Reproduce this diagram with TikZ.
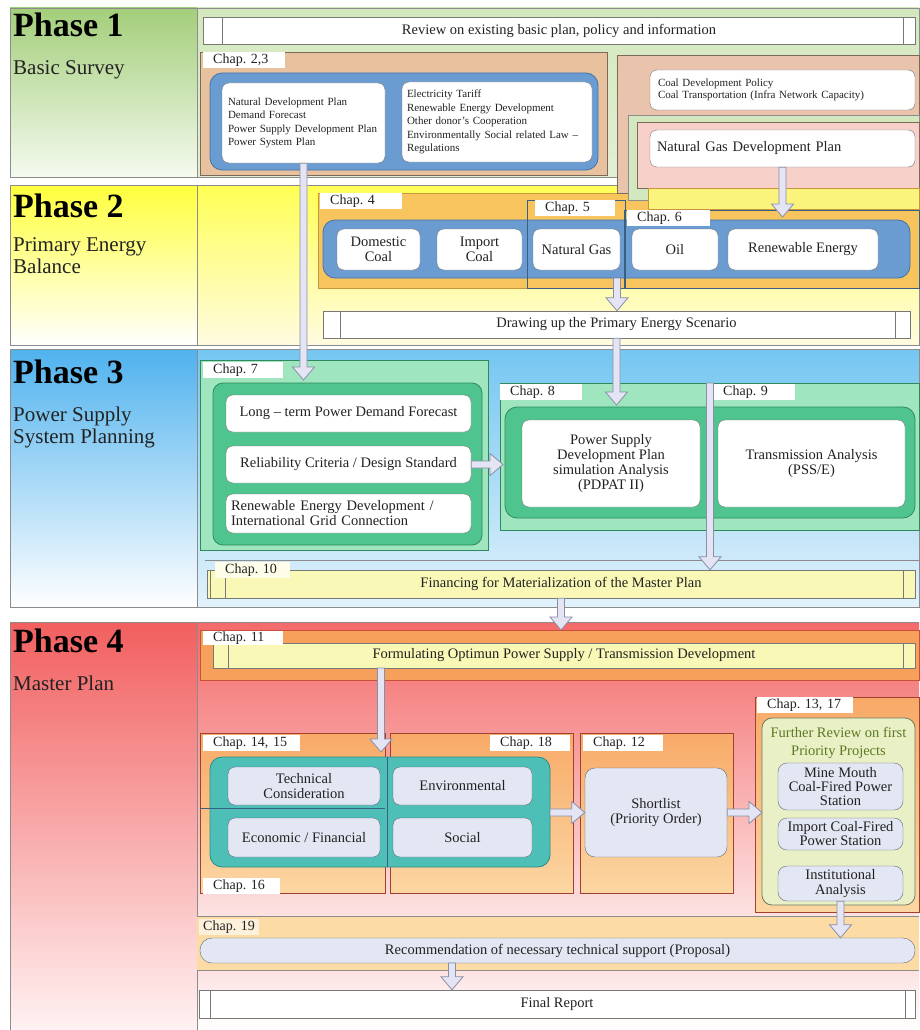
\documentclass[tikz,border=0pt]{standalone}
\usepackage{fontspec}
\setmainfont{Liberation Serif}
\usetikzlibrary{calc}
\newcommand{\myfs}[2]{\fontsize{#1}{#2}\selectfont}
\definecolor{p1top}{HTML}{A3CE7A}
\definecolor{p1bot}{HTML}{F5FAEF}
\definecolor{p1r}{HTML}{D4E8BF}
\definecolor{p1rb}{HTML}{E2EFD3}
\definecolor{tanA}{HTML}{E8C29E}
\definecolor{tanB}{HTML}{E9C3AC}
\definecolor{pinkR}{HTML}{F6D0C9}
\definecolor{blueF}{HTML}{6A9BD1}
\definecolor{blueL}{HTML}{4672A6}
\definecolor{p2top}{HTML}{FFFF3C}
\definecolor{p2rtop}{HTML}{FFFF55}
\definecolor{p2rbot}{HTML}{FFFBE0}
\definecolor{or4}{HTML}{F8C45E}
\definecolor{or4l}{HTML}{C8963C}
\definecolor{yband}{HTML}{FBF47C}
\definecolor{p3top}{HTML}{4FB2EE}
\definecolor{p3rtop}{HTML}{74C6F1}
\definecolor{p3rbot}{HTML}{E2F2FB}
\definecolor{lgreen}{HTML}{9FE5BE}
\definecolor{mgreen}{HTML}{4FC48E}
\definecolor{dgreen}{HTML}{2E8A5E}
\definecolor{yel10}{HTML}{FAF8B6}
\definecolor{p4top}{HTML}{F25F5F}
\definecolor{p4bot}{HTML}{FFF2F2}
\definecolor{p4rtop}{HTML}{F46A6A}
\definecolor{p4rbot}{HTML}{FDE2E2}
\definecolor{or11}{HTML}{F6A05C}
\definecolor{red11}{HTML}{C8503A}
\definecolor{or14t}{HTML}{F8AA68}
\definecolor{or14b}{HTML}{FCD6A2}
\definecolor{tealF}{HTML}{4EBFB7}
\definecolor{tealL}{HTML}{2E8C88}
\definecolor{lav}{HTML}{E3E6F3}
\definecolor{lavline}{HTML}{5C6679}
\definecolor{ygreen}{HTML}{EAF0C6}
\definecolor{ftitle}{HTML}{5B7A24}
\definecolor{c19col}{HTML}{FCDCA4}
\definecolor{arrfill}{HTML}{E4E4F4}
\definecolor{arrline}{HTML}{8890A8}
\definecolor{boxline}{HTML}{787878}
\definecolor{regline}{HTML}{7A6A5A}
\definecolor{bandline}{HTML}{8C8C8C}
\definecolor{frameblue}{HTML}{3A6080}
\definecolor{ink}{HTML}{222222}
\newcommand{\harrowdown}[2]{%
  \path[harrowsty] let \p1=(#1), \p2=(#2) in
  (\x1-3.5pt,\y1) -- (\x1-3.5pt,\y2+13pt) -- (\x1-11pt,\y2+13pt) -- (\x1,\y2)
  -- (\x1+11pt,\y2+13pt) -- (\x1+3.5pt,\y2+13pt) -- (\x1+3.5pt,\y1) -- cycle;}
\newcommand{\harrowright}[2]{%
  \path[harrowsty] let \p1=(#1), \p2=(#2) in
  (\x1,\y1+3.5pt) -- (\x2-13pt,\y1+3.5pt) -- (\x2-13pt,\y1+11pt) -- (\x2,\y1)
  -- (\x2-13pt,\y1-11pt) -- (\x2-13pt,\y1-3.5pt) -- (\x1,\y1-3.5pt) -- cycle;}
\begin{document}
\frenchspacing
\begin{tikzpicture}[x=1pt,y=-1pt,
  sz/.style 2 args={minimum width=#1, minimum height=#2},
  rbox/.style={draw=boxline, fill=white, rounded corners=7pt, align=center, inner sep=2pt, font=\myfs{14.5}{15}, text=ink},
  lbox/.style={rbox, fill=lav, draw=lavline},
  pbox/.style={draw=boxline, fill=white, align=center, inner sep=0pt, font=\myfs{14.5}{15}, text=ink},
  chaplbl/.style={anchor=north west, fill=white, inner xsep=10pt, inner ysep=0pt, minimum height=16pt, text width=#1, align=left, font=\myfs{14}{14}, text=ink},
  region/.style={draw=regline, line width=0.7pt},
  harrowsty/.style={fill=arrfill, draw=arrline, line width=0.8pt},
  ptitle/.style={anchor=base west, font=\bfseries\myfs{34}{34}, inner sep=0pt, text=black},
  psub/.style={anchor=base west, font=\myfs{21}{22}, inner sep=0pt, text=ink},
  band/.style={draw=bandline, line width=0.8pt}
]
\useasboundingbox (0,0) rectangle (919,1030);
\fill[white] (0,0) rectangle (919,1030);

% ---------------- phase bands ----------------
\shade[top color=p1top, bottom color=p1bot] (10,8) rectangle (197,177);
\shade[top color=p1r, bottom color=p1rb] (197,8) rectangle (919,177);
\shade[top color=p2top, bottom color=white] (10,185) rectangle (197,345);
\shade[top color=p2rtop, bottom color=p2rbot] (197,185) rectangle (919,345);
\shade[top color=p3top, bottom color=white] (10,349) rectangle (197,607);
\shade[top color=p3rtop, bottom color=p3rbot] (197,349) rectangle (919,607);
\shade[top color=p4top, bottom color=p4bot] (10,622) rectangle (197,1030);
\shade[top color=p4rtop, bottom color=p4rbot] (197,622) rectangle (919,916);
\shade[top color=p4rbot, bottom color=white] (197,970) rectangle (919,1030);
\draw[band] (10,8) rectangle (919,177) (197,8) -- (197,177);
\draw[band] (10,185) rectangle (919,345) (197,185) -- (197,345);
\draw[band] (10,349) rectangle (919,607) (197,349) -- (197,607);
\draw[band] (919,622) -- (10,622) -- (10,1030) (197,622) -- (197,1030);

% ---------------- phase titles ----------------
\node[ptitle] (p1) at (13,37) {Phase 1};
\node[psub] (p1s) at (13,75) {Basic Survey};
\node[ptitle] (p2) at (13,217) {Phase 2};
\node[psub] (p2s) at (13,251) {Primary Energy};
\node[psub] (p2t) at (13,273) {Balance};
\node[ptitle] (p3) at (13,383) {Phase 3};
\node[psub] (p3s) at (13,421) {Power Supply};
\node[psub] (p3t) at (13,443) {System Planning};
\node[ptitle] (p4) at (13,652) {Phase 4};
\node[psub] (p4s) at (13,690) {Master Plan};

% ---------------- phase 1 ----------------
\node[pbox, sz={712pt}{27pt}] (rev) at (559,30.5) {Review on existing basic plan, policy and information};
\draw[draw=boxline] ([xshift=19pt]rev.north west) -- ([xshift=19pt]rev.south west)
  ([xshift=-12pt]rev.north east) -- ([xshift=-12pt]rev.south east);
\draw[region, fill=tanA] (200,52) rectangle (607,175);
\node[chaplbl=62pt] (l23) at (203,52) {Chap. 2,3};
\draw[fill=blueF, draw=blueL, line width=0.8pt, rounded corners=12pt] (210,73) rectangle (598,170);
\node[rbox, sz={163pt}{80pt}, text width=151pt, inner xsep=6pt, align=left, font=\myfs{11}{13.5}] (lb) at (303.5,123)
  {Natural Development Plan\\Demand Forecast\\Power Supply Development Plan\\Power System Plan};
\node[rbox, sz={190pt}{80pt}, text width=180pt, inner xsep=5pt, align=left, font=\myfs{11}{13.5}] (rb) at (497,122)
  {Electricity Tariff\\Renewable Energy Development\\Other donor's Cooperation\\Environmentally Social related Law –\\Regulations};

% ---------------- phase 2 regions ----------------
\draw[region, draw=or4l, fill=or4] (318,193) rectangle (919,288);
\draw[region, fill=tanB] (617,55) rectangle (919,193);
\draw[region, draw=bandline, fill=p1r] (628,115) rectangle (919,200);
\draw[region, fill=pinkR] (637,122) rectangle (919,188);
\draw[region, draw=or4l, fill=yband] (648,188) rectangle (919,209);
\node[rbox, sz={265pt}{40pt}, text width=249pt, inner xsep=8pt, align=left, font=\myfs{11}{12}] (coal) at (782.5,90)
  {Coal Development Policy\\Coal Transportation (Infra Network Capacity)};
\node[rbox, sz={265pt}{37pt}, text width=251pt, inner xsep=7pt, align=left] (ngplan) at (782.5,148.5) {Natural Gas Development Plan};

\node[chaplbl=62pt] (l4) at (320,193) {Chap. 4};
\draw[fill=blueF, draw=blueL, line width=0.8pt, rounded corners=12pt] (323,220) rectangle (910,278);
\draw[draw=frameblue, line width=0.8pt] (527,200) rectangle (625,288);
\draw[draw=frameblue, line width=0.8pt] (624,210) rectangle (919,288);
\node[chaplbl=60pt] (l5) at (535,200) {Chap. 5};
\node[chaplbl=63pt] (l6) at (627,210) {Chap. 6};
\node[rbox, sz={83pt}{41pt}] (dcoal) at (378.5,249.5) {Domestic\\Coal};
\node[rbox, sz={85pt}{41pt}] (icoal) at (479.5,249.5) {Import\\Coal};
\node[rbox, sz={87pt}{41pt}] (ngas) at (576.5,249.5) {Natural Gas};
\node[rbox, sz={86pt}{41pt}] (oil) at (675,249.5) {Oil};
\node[rbox, sz={150pt}{41pt}] (renew) at (803,249.5) {Renewable Energy};
\node[pbox, sz={587pt}{27pt}] (draw2) at (616.5,324.5) {Drawing up the Primary Energy Scenario};
\draw[draw=boxline] ([xshift=17pt]draw2.north west) -- ([xshift=17pt]draw2.south west)
  ([xshift=-15pt]draw2.north east) -- ([xshift=-15pt]draw2.south east);

% ---------------- phase 3 ----------------
\draw[region, draw=dgreen, fill=lgreen] (200,360) rectangle (488,550);
\node[chaplbl=60pt] (l7) at (203,362) {Chap. 7};
\draw[fill=mgreen, draw=dgreen, line width=0.8pt, rounded corners=10pt] (213,383) rectangle (482,545);
\node[rbox, sz={245pt}{37pt}] (ltf) at (348.5,413.5) {Long – term Power Demand Forecast};
\node[rbox, sz={245pt}{37pt}] (rel) at (348.5,464.5) {Reliability Criteria / Design Standard};
\node[rbox, sz={245pt}{39pt}, text width=235pt, inner xsep=5pt, align=left] (reg) at (348.5,513.5)
  {Renewable Energy Development /\\International Grid Connection};
\draw[region, draw=dgreen, fill=lgreen] (500,383) rectangle (707,530);
\draw[region, draw=dgreen, fill=lgreen] (707,383) rectangle (919,530);
\node[chaplbl=62pt] (l8) at (500,384) {Chap. 8};
\node[chaplbl=62pt] (l9) at (713,384) {Chap. 9};
\draw[fill=mgreen, draw=dgreen, line width=0.8pt, rounded corners=12pt] (505,407) rectangle (915,518);
\draw[draw=frameblue, line width=0.8pt] (707,383) -- (707,518);
\node[rbox, sz={178pt}{87pt}] (pdpat) at (611,463.5) {Power Supply\\Development Plan\\simulation Analysis\\(PDPAT II)};
\node[rbox, sz={187pt}{87pt}] (psse) at (811.5,463.5) {Transmission Analysis\\(PSS/E)};
\draw[draw=bandline, line width=0.8pt] (205,560) -- (919,560);
\node[pbox, fill=yel10, sz={708pt}{28pt}] (fin) at (561,584) {Financing for Materialization of the Master Plan};
\draw[draw=boxline] ([xshift=3pt]fin.north west) -- ([xshift=3pt]fin.south west)
  ([xshift=18pt]fin.north west) -- ([xshift=18pt]fin.south west)
  ([xshift=-12pt]fin.north east) -- ([xshift=-12pt]fin.south east);
\node[chaplbl=55pt, fill=white!70!yel10] (l10) at (215,562) {Chap. 10};

% ---------------- phase 4 ----------------
\draw[region, draw=red11, fill=or11] (200,630) rectangle (919,680);
\node[pbox, fill=yel10, sz={702pt}{25pt}] (form) at (564,655.5) {Formulating Optimun Power Supply / Transmission Development};
\draw[draw=boxline] ([xshift=15pt]form.north west) -- ([xshift=15pt]form.south west)
  ([xshift=-12pt]form.north east) -- ([xshift=-12pt]form.south east);
\node[chaplbl=60pt, inner ysep=0pt, minimum height=14pt] (l11) at (203,631) {Chap. 11};

\shadedraw[region, draw=red11!80!black, top color=or14t, bottom color=or14b] (200,733) rectangle (385,893);
\shadedraw[region, draw=red11!80!black, top color=or14t, bottom color=or14b] (390,733) rectangle (573,893);
\shadedraw[region, draw=red11!80!black, top color=or14t, bottom color=or14b] (580,733) rectangle (733,893);
\shadedraw[region, draw=red11!80!black, top color=or14t, bottom color=or14b] (755,697) rectangle (919,912);
\draw[fill=tealF, draw=tealL, line width=0.8pt, rounded corners=12pt] (210,757) rectangle (550,867);
\draw[draw=frameblue, line width=0.7pt] (200,808) -- (385,808) (387,757) -- (387,867);
\node[chaplbl=77pt] (l1415) at (203,735) {Chap. 14, 15};
\node[chaplbl=60pt] (l18) at (490,735) {Chap. 18};
\node[chaplbl=57pt] (l16) at (203,878) {Chap. 16};
\node[chaplbl=60pt] (l12) at (583,735) {Chap. 12};
\node[chaplbl=76pt] (l1317) at (757,697) {Chap. 13, 17};
\node[lbox, sz={152pt}{38pt}] (tech) at (304,786) {Technical\\Consideration};
\node[lbox, sz={139pt}{38pt}] (env) at (462.5,786) {Environmental};
\node[lbox, sz={152pt}{39pt}] (econ) at (304,837.5) {Economic / Financial};
\node[lbox, sz={139pt}{39pt}] (social) at (462.5,837.5) {Social};
\node[lbox, sz={142pt}{89pt}, rounded corners=10pt] (short) at (656,812.5) {Shortlist\\(Priority Order)};
\draw[fill=ygreen, draw=boxline!70!ftitle, line width=0.8pt, rounded corners=10pt] (762,718) rectangle (915,905);
\node[align=center, font=\myfs{14.5}{18}, text=ftitle, inner sep=0pt] (ftt) at (838.5,743) {Further Review on first\\Priority Projects};
\node[lbox, sz={125pt}{47pt}, font=\myfs{14.5}{14}, rounded corners=9pt] (mine) at (840.5,786.5) {Mine Mouth\\Coal-Fired Power\\Station};
\node[lbox, sz={125pt}{32pt}, font=\myfs{14.5}{14}, rounded corners=9pt] (impc) at (840.5,834) {Import Coal-Fired\\Power Station};
\node[lbox, sz={125pt}{35pt}, font=\myfs{14.5}{15}, rounded corners=9pt] (inst) at (840.5,883.5) {Institutional\\Analysis};

\fill[c19col] (197,916) rectangle (919,970);
\draw[draw=bandline, line width=0.8pt] (197,916) -- (919,916) (197,970) -- (919,970);
\node[chaplbl=52pt, inner xsep=4pt, fill=white!60!c19col] (l19) at (199,919) {Chap. 19};
\node[lbox, sz={715pt}{25pt}, rounded corners=12pt] (rec) at (557.5,950.5) {Recommendation of necessary technical support (Proposal)};
\node[pbox, sz={716pt}{28pt}] (final) at (557,1004) {Final Report};
\draw[draw=boxline] ([xshift=11pt]final.north west) -- ([xshift=11pt]final.south west)
  ([xshift=-10pt]final.north east) -- ([xshift=-10pt]final.south east);

% ---------------- arrows ----------------
\coordinate (a1e) at (303.5,380);
\coordinate (a2e) at (782.5,217);
\coordinate (a3s) at (617,278);
\coordinate (a4e) at (617,405);
\coordinate (a5e) at (503,464.5);
\coordinate (a6s) at (710,383);
\coordinate (a7e) at (561,630);
\coordinate (a8s) at (381,668);
\coordinate (a8e) at (381,752);
\coordinate (a9s) at (550,812.5);
\coordinate (a10e) at (762,812.5);
\coordinate (a12s) at (452,963);
\harrowdown{lb.south}{a1e}
\harrowdown{ngplan.south}{a2e}
\harrowdown{a3s}{draw2.north}
\harrowdown{draw2.south}{a4e}
\harrowright{rel.east}{a5e}
\harrowdown{a6s}{fin.north}
\harrowdown{fin.south}{a7e}
\harrowdown{a8s}{a8e}
\harrowright{a9s}{short.west}
\harrowright{short.east}{a10e}
\harrowdown{inst.south}{rec.north}
\harrowdown{a12s}{final.north}
\end{tikzpicture}
\end{document}
